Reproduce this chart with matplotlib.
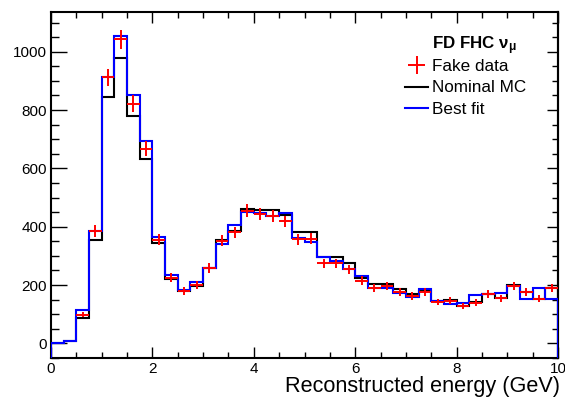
import numpy as np
import matplotlib
matplotlib.use('Agg')
import matplotlib.pyplot as plt

plt.rcParams['font.family'] = ['Liberation Sans', 'DejaVu Sans']

# bin edges in reconstructed energy (GeV), 0.25 GeV bins
edges = np.linspace(0, 10, 41)

fake_data = [np.nan, np.nan, 99, 385, 912, 1043, 822, 667, 355, 225,
             180, 201, 259, 352, 381, 455, 444, 437, 418, 357,
             358, 274, 274, 254, 215, 191, 196, 177, 162, 177,
             142, 146, 128, 140, 170, 154, 196, 176, 153, 190]
nominal_mc = [3, 8, 88, 355, 843, 978, 781, 633, 343, 220,
              180, 197, 258, 355, 385, 461, 458, 458, 441, 381,
              381, 297, 295, 274, 225, 202, 205, 186, 171, 179,
              145, 150, 128, 142, 171, 157, 201, 177, 153, 190]
best_fit = [3, 8, 116, 385, 912, 1054, 853, 694, 366, 234,
            182, 211, 260, 340, 406, 449, 446, 438, 446, 360,
            347, 297, 283, 254, 230, 191, 190, 174, 159, 185,
            145, 135, 137, 165, 171, 174, 197, 152, 189, 153]

ymin, ymax = -50, 1136

fig = plt.figure(figsize=(5.65, 3.98), dpi=100)
ax = fig.add_axes([51 / 565, 1 - 358 / 398, (558 - 51) / 565, (358 - 12) / 398])

ax.stairs(nominal_mc, edges, baseline=ymin, color='black', lw=1.5, label='Nominal MC', zorder=2)
ax.stairs(best_fit, edges, baseline=ymin, color='blue', lw=1.5, label='Best fit', zorder=3)

centers = 0.5 * (edges[:-1] + edges[1:])
data = np.array(fake_data, dtype=float)
ax.errorbar(centers, data, xerr=0.125, yerr=np.sqrt(data), fmt='none',
            ecolor='red', elinewidth=1.4, capsize=0, label='Fake data', zorder=4)

ax.set_xlim(0, 10)
ax.set_ylim(ymin, ymax)
ax.set_xticks(np.arange(0, 11, 2))
ax.set_xticks(np.arange(0, 10.01, 0.5), minor=True)
ax.set_yticks(np.arange(0, 1001, 200))
ax.set_yticks(np.arange(-50, 1136, 50), minor=True)

ax.tick_params(axis='x', which='both', direction='in', top=True, labelsize=11, pad=3)
ax.tick_params(axis='x', which='major', length=8, width=1)
ax.tick_params(axis='x', which='minor', length=4, width=1)
ax.tick_params(axis='y', which='both', direction='in', right=False, labelsize=11, pad=3)
ax.tick_params(axis='y', which='major', length=11.5, width=1)
ax.tick_params(axis='y', which='minor', length=5.8, width=1)

sec = ax.secondary_yaxis('right')
sec.set_yticks(np.arange(0, 1001, 200))
sec.set_yticks(np.arange(-50, 1136, 50), minor=True)
sec.tick_params(which='both', direction='in', labelright=False, width=1)
sec.tick_params(which='major', length=8)
sec.tick_params(which='minor', length=4)
sec.spines['right'].set_linewidth(1.5)

for s in ax.spines.values():
    s.set_linewidth(1.5)

ax.text(1.004, -0.0995, 'Reconstructed energy (GeV)', transform=ax.transAxes,
        ha='right', va='baseline', fontsize=15.6, clip_on=False)

fig.text(432 / 565, 1 - 46 / 398, r'FD FHC $\mathregular{\nu_{\mu}}$', fontsize=12.2,
         fontweight='bold', ha='left', va='center')

h, l = ax.get_legend_handles_labels()
order = [l.index('Fake data'), l.index('Nominal MC'), l.index('Best fit')]
ax.legend([h[i] for i in order], [l[i] for i in order],
          loc='upper left', bbox_to_anchor=(405 / 565, 1 - 59 / 398),
          bbox_transform=fig.transFigure, frameon=False, fontsize=12.3,
          borderpad=0, borderaxespad=0, handlelength=1.35, handletextpad=0.22,
          labelspacing=0.38)

fig.savefig('out.png', dpi=100)
